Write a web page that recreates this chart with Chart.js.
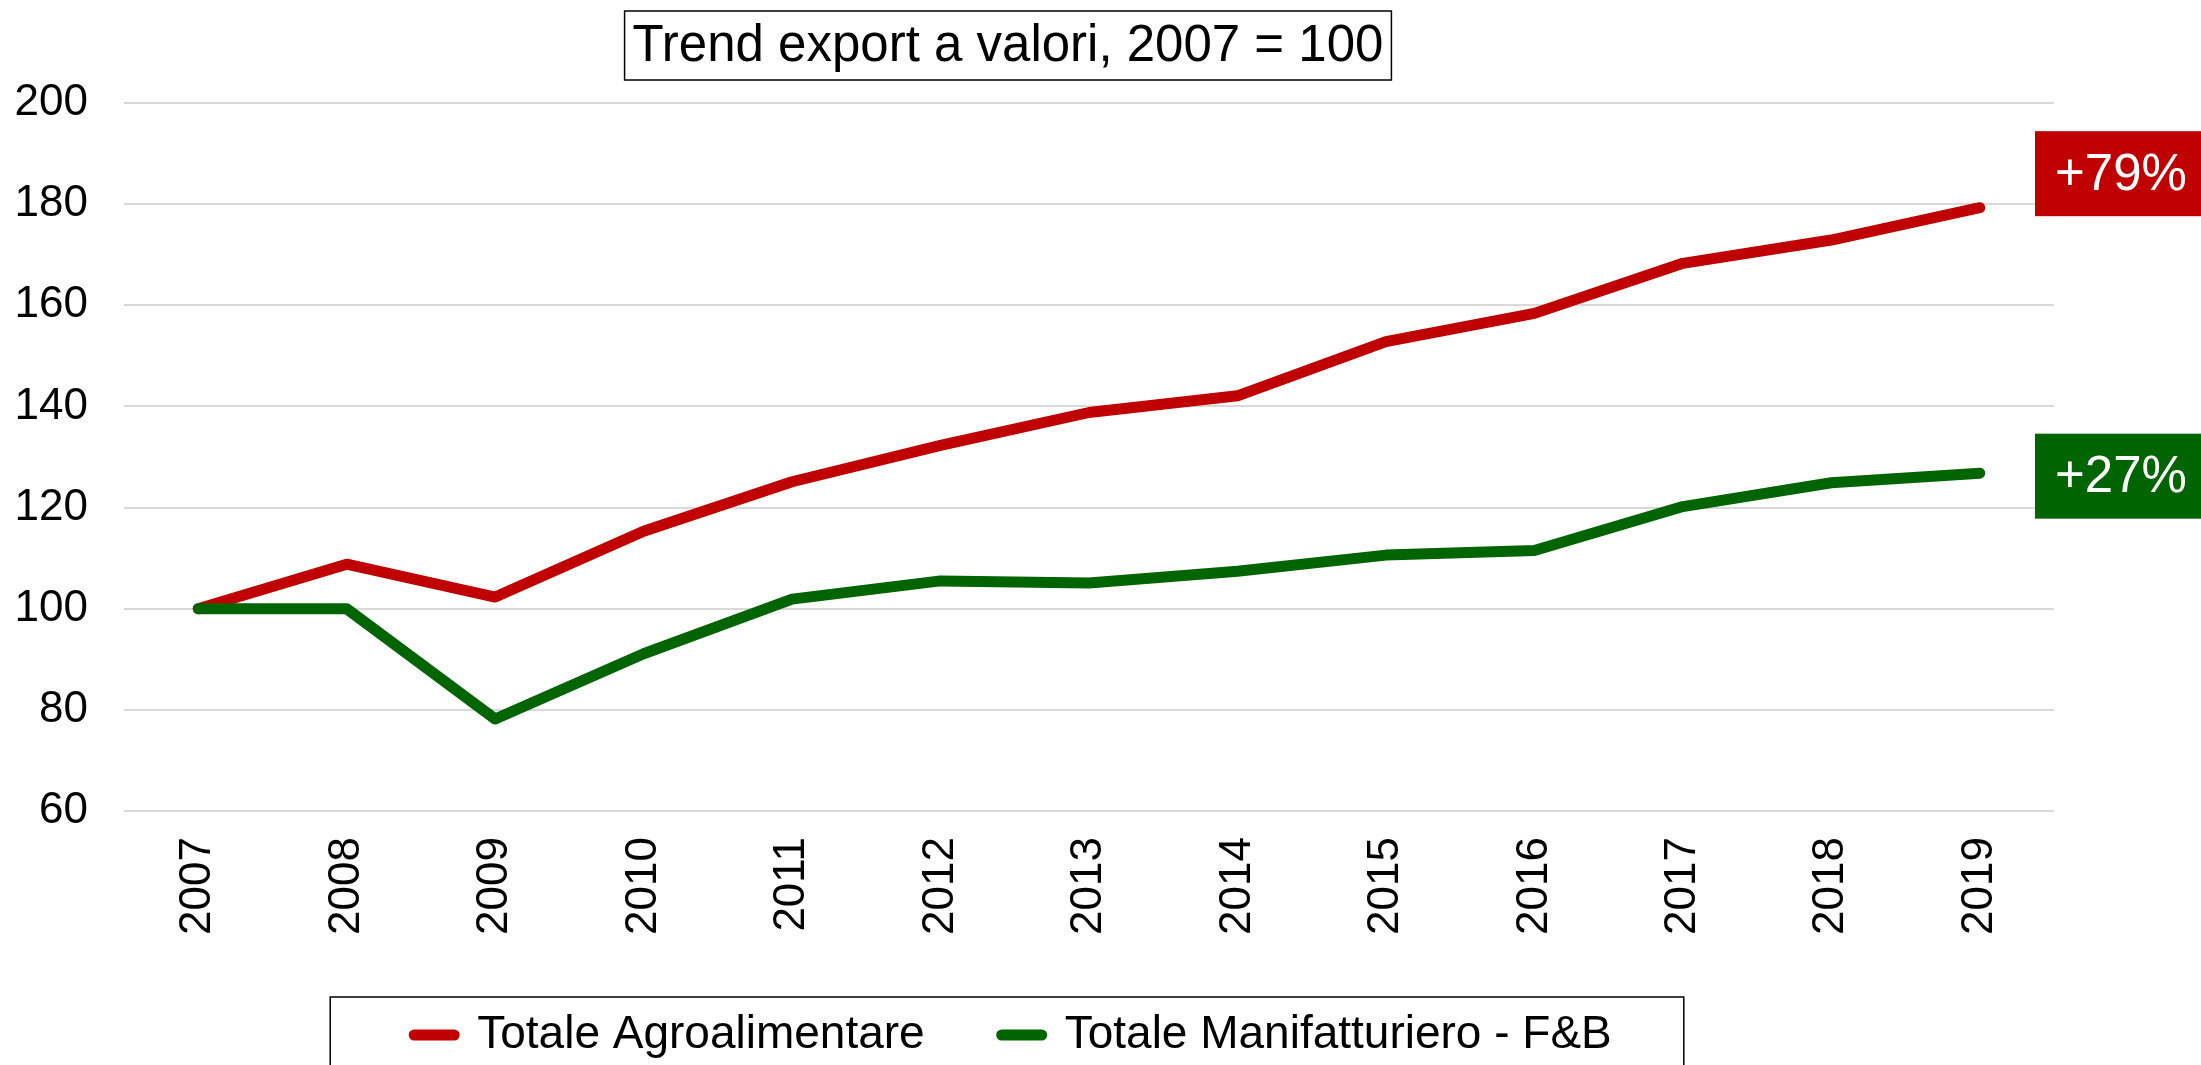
<!DOCTYPE html>
<html>
<head>
<meta charset="utf-8">
<title>Trend export a valori</title>
<script src="https://cdn.jsdelivr.net/npm/chart.js@4.4.1/dist/chart.umd.min.js"></script>
<style>
  body { margin: 0; background: #fff; }
  #wrap { width: 2201px; height: 1065px; }
</style>
</head>
<body>
<div id="wrap"><canvas id="exportChart" width="2201" height="1065"></canvas></div>
<script>
// data
const years = ['2007', '2008', '2009', '2010', '2011', '2012', '2013', '2014', '2015', '2016', '2017', '2018', '2019'];
const agroValues = [100, 108.8, 102.3, 115.3, 125.1, 132.3, 138.8, 142.1, 152.8, 158.4, 168.3, 172.9, 179.3];
const manifValues = [100, 100, 78.2, 91.1, 101.9, 105.5, 105.1, 107.4, 110.6, 111.5, 120.2, 124.9, 126.8];
const seriesNames = ['Totale Agroalimentare', 'Totale Manifatturiero - F&B'];
const growthLabels = ['+79%', '+27%'];
const yTicks = [60, 80, 100, 120, 140, 160, 180, 200];
const titleText = 'Trend export a valori, 2007 = 100';

const seriesColors = ['#C00000', '#006400'];

Chart.defaults.font.family = '"Liberation Sans", Arial, sans-serif';
Chart.defaults.color = '#000';

// title box, legend frame and the two growth badges
const decorations = {
    id: 'decorations',
    afterLayout: (chart) => {
        // legend sits a bit left of the canvas centre
        chart.legend.left -= 21;
        chart.legend.right -= 21;
    },
    afterDraw: (chart) => {
        const ctx = chart.ctx;
        ctx.save();

        // boxed title
        ctx.font = '51px "Liberation Sans", Arial, sans-serif';
        ctx.textAlign = 'center';
        ctx.textBaseline = 'middle';
        ctx.fillStyle = '#000';
        const tw = ctx.measureText(titleText).width;
        const tx = 1008;
        ctx.fillText(titleText, tx, 47);
        ctx.lineWidth = 1.5;
        ctx.strokeStyle = '#000';
        ctx.strokeRect(tx - tw / 2 - 8, 11, tw + 16, 69);

        // legend frame
        const hb = chart.legend.legendHitBoxes;
        if (hb && hb.length) {
            const first = hb[0];
            const last = hb[hb.length - 1];
            const left = first.left - 84;
            const right = last.left + last.width + 72;
            const top = first.top - 15;
            ctx.strokeRect(left, top, right - left, chart.height + 20 - top);
        }

        // growth badges at the end of each line
        const shifts = [-34, 3];
        const bx = chart.chartArea.right - 19;
        const bw = chart.width - bx;
        const bh = 85;
        ctx.font = '51px "Liberation Sans", Arial, sans-serif';
        for (var i = 0; i < chart.data.datasets.length; i++) {
            const pts = chart.getDatasetMeta(i).data;
            const cy = pts[pts.length - 1].y + shifts[i];
            ctx.fillStyle = seriesColors[i];
            ctx.fillRect(bx, cy - bh / 2, bw, bh);
            ctx.fillStyle = '#fff';
            ctx.fillText(growthLabels[i], bx + bw / 2 + 3, cy + 2);
        }
        ctx.restore();
    }
};

const ctxL = document.getElementById('exportChart').getContext('2d');
const exportChart = new Chart(ctxL, {
    type: 'line',
    data: {
        labels: years,
        datasets: [{
            label: seriesNames[0],
            data: agroValues,
            borderColor: seriesColors[0],
            backgroundColor: seriesColors[0],
            borderWidth: 11,
            borderCapStyle: 'round',
            borderJoinStyle: 'round',
            pointRadius: 0,
            tension: 0,
            order: 1
        },
        {
            label: seriesNames[1],
            data: manifValues,
            borderColor: seriesColors[1],
            backgroundColor: seriesColors[1],
            borderWidth: 11,
            borderCapStyle: 'round',
            borderJoinStyle: 'round',
            pointRadius: 0,
            tension: 0,
            order: 0
        }]
    },
    options: {
        responsive: false,
        animation: false,
        devicePixelRatio: 1,
        layout: {
            padding: { left: 14, right: 147, top: 103, bottom: -3 }
        },
        plugins: {
            title: { display: false },
            tooltip: { enabled: false },
            legend: {
                position: 'bottom',
                labels: {
                    font: { size: 46 },
                    color: '#000',
                    usePointStyle: true,
                    pointStyle: 'line',
                    pointStyleWidth: 40,
                    padding: 77,
                    sort: (a, b) => a.datasetIndex - b.datasetIndex,
                    generateLabels: (chart) => {
                        const items = Chart.defaults.plugins.legend.labels.generateLabels(chart);
                        items.forEach(it => {
                            it.lineCap = 'round';
                            it.lineWidth = 11;
                            it.strokeStyle = seriesColors[it.datasetIndex];
                            it.pointStyle = 'line';
                        });
                        return items;
                    }
                }
            }
        },
        scales: {
            x: {
                offset: true,
                afterFit: (scale) => { scale.height = 124; },
                grid: { display: false, drawTicks: false },
                border: { display: false },
                ticks: {
                    autoSkip: false,
                    maxRotation: 90,
                    minRotation: 90,
                    padding: 26,
                    font: { size: 44 },
                    color: '#000'
                }
            },
            y: {
                min: 60,
                max: 200,
                afterFit: (scale) => { scale.width = 110; },
                afterBuildTicks: (scale) => { scale.ticks = yTicks.map(v => ({ value: v })); },
                grid: { color: '#d9d9d9', lineWidth: 2, drawTicks: false },
                border: { display: false },
                ticks: {
                    padding: 36,
                    font: { size: 44 },
                    color: '#000'
                }
            }
        }
    },
    plugins: [decorations]
});
</script>
</body>
</html>
